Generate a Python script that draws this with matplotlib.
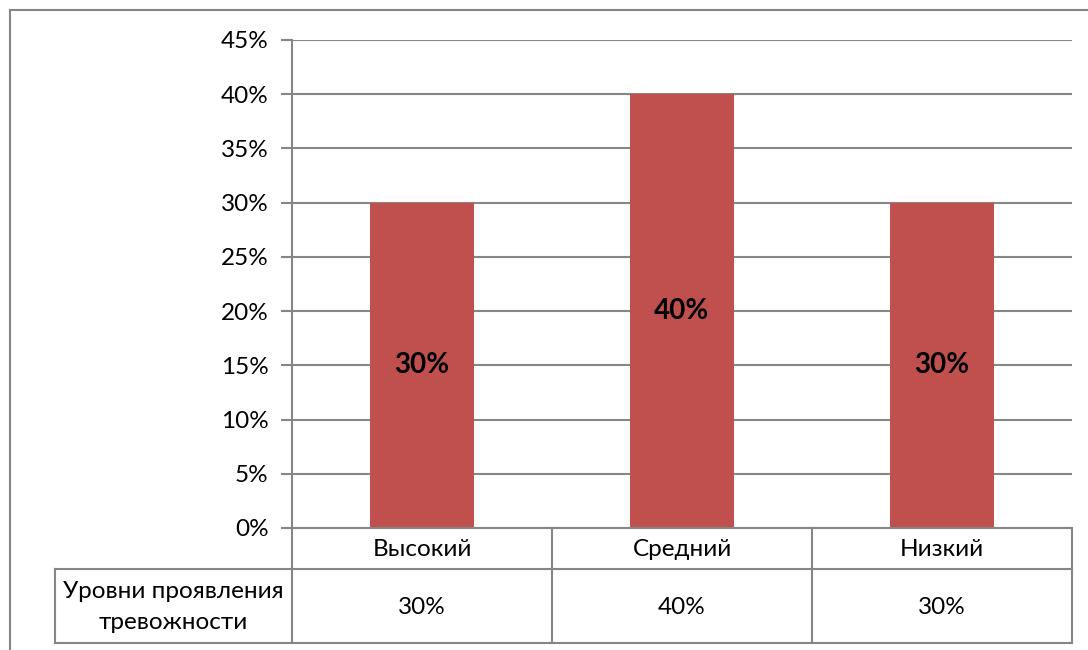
import matplotlib.pyplot as plt
from matplotlib.lines import Line2D
from matplotlib.ticker import PercentFormatter

plt.rcParams['font.family'] = ['Lato', 'DejaVu Sans']

categories = ["Высокий", "Средний", "Низкий"]
values = [30, 40, 30]
row_label = "Уровни проявления\nтревожности"
yticks = [0, 5, 10, 15, 20, 25, 30, 35, 40, 45]

W, H = 1088, 650
fig = plt.figure(figsize=(W / 100, H / 100), dpi=100)
grey = "#868686"
fs = 17.5

# plot area in pixels
left, right, top, bottom = 292, 1072, 40, 528
ax = fig.add_axes([left / W, 1 - bottom / H, (right - left) / W, (bottom - top) / H])

x = range(len(categories))
ax.bar(x, values, width=0.4, color="#C0504D", zorder=3)
for xi, v in zip(x, values):
    ax.text(xi, v / 2, f"{v}%", ha="center", va="center",
            fontsize=20, fontweight="bold", color="black", zorder=4)

ax.set_xlim(-0.5, len(categories) - 0.5)
ax.set_ylim(0, 45)
ax.set_yticks(yticks)
ax.yaxis.set_major_formatter(PercentFormatter(decimals=0))
ax.tick_params(axis="y", length=8, width=1.5, color=grey, labelsize=fs, pad=9)
ax.tick_params(axis="x", bottom=False, labelbottom=False)
ax.grid(axis="y", color=grey, linewidth=1.5, zorder=0)
for s in ["top", "right", "bottom"]:
    ax.spines[s].set_visible(False)
ax.spines["left"].set_color(grey)
ax.spines["left"].set_linewidth(1.5)

# data table below the plot
def px(xp, yp):
    return xp / W, 1 - yp / H

row1_bot, row2_bot, tab_left = 569, 643, 55
col_w = (right - left) / len(categories)

def line(x0, y0, x1, y1):
    fig.add_artist(Line2D([x0 / W, x1 / W], [1 - y0 / H, 1 - y1 / H],
                          color=grey, linewidth=1.5))

line(left, bottom, right, bottom)
line(tab_left, row1_bot, right, row1_bot)
line(tab_left, row2_bot, right, row2_bot)
line(tab_left, row1_bot, tab_left, row2_bot)
line(right, bottom, right, row2_bot)
for i in range(len(categories)):
    line(left + i * col_w, bottom, left + i * col_w, row2_bot)

for i, (cat, v) in enumerate(zip(categories, values)):
    cx = left + (i + 0.5) * col_w
    fig.text(*px(cx, (bottom + row1_bot) / 2 + 1), cat, ha="center", va="center", fontsize=fs)
    fig.text(*px(cx, (row1_bot + row2_bot) / 2 + 1), f"{v}%", ha="center", va="center", fontsize=fs)
fig.text(*px((tab_left + left) / 2, (row1_bot + row2_bot) / 2 + 1), row_label,
         ha="center", va="center", fontsize=fs, linespacing=1.6)

# outer chart frame (only top and left edges visible)
line(10, 10, W, 10)
line(10, 10, 10, H)

fig.savefig("out.png", dpi=100)
